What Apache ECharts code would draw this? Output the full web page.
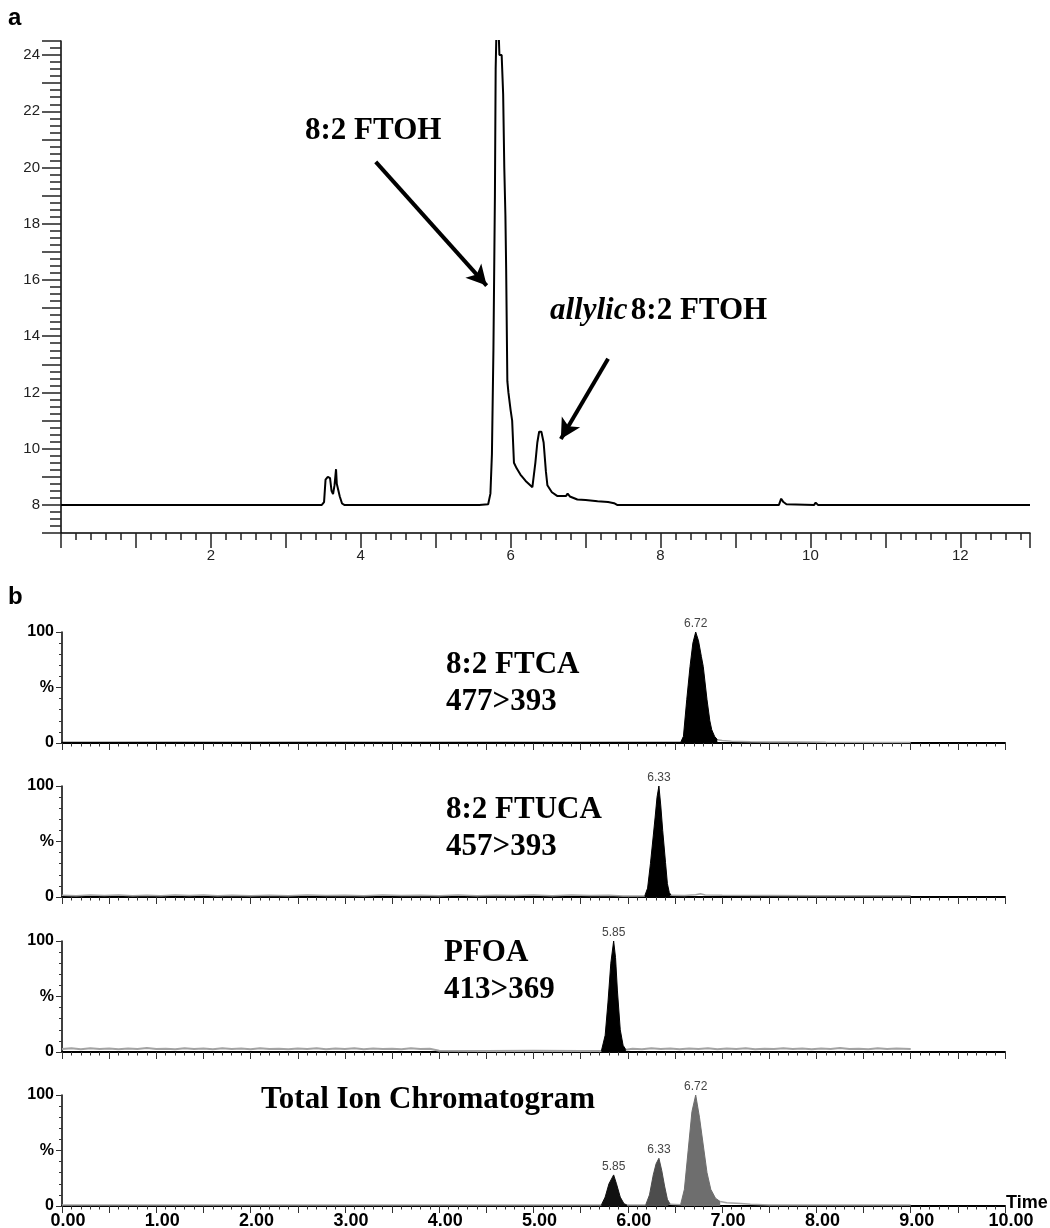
<!DOCTYPE html>
<html>
<head>
<meta charset="utf-8">
<script src="https://cdn.jsdelivr.net/npm/echarts@6/dist/echarts.min.js"></script>
<style>
  html, body { margin: 0; padding: 0; background: #fff; }
  #chart { width: 1050px; height: 1228px; }
</style>
</head>
<body>
<div id="chart"></div>
<script>
// ---- panel a: GC trace (time, abundance) ----
const gcTrace = [
  [0, 8.0], [3.48, 8.0], [3.51, 8.1], [3.53, 8.9], [3.56, 9.0], [3.59, 8.95], [3.61, 8.5],
  [3.63, 8.38], [3.65, 8.7], [3.66, 8.76], [3.67, 9.27], [3.68, 8.75], [3.70, 8.7], [3.72, 8.3],
  [3.75, 8.05], [3.78, 8.0], [5.28, 8.0], [5.29, 7.93], [5.30, 8.0], [5.50, 8.0], [5.51, 7.93],
  [5.52, 8.0], [5.58, 8.0], [5.59, 7.93], [5.60, 8.0], [5.70, 8.02], [5.73, 8.4], [5.75, 9.8],
  [5.77, 13.5], [5.79, 19.0], [5.80, 23.5], [5.81, 24.8], [5.84, 24.8], [5.85, 24.0], [5.88, 24.0],
  [5.90, 22.6], [5.915, 20.0], [5.93, 18.3], [5.94, 16.4], [5.956, 12.4], [5.97, 12.0], [6.00, 11.36],
  [6.02, 11.0], [6.044, 9.5], [6.08, 9.3], [6.13, 9.08], [6.20, 8.85], [6.29, 8.63], [6.33, 9.5],
  [6.356, 10.22], [6.38, 10.6], [6.41, 10.6], [6.44, 10.22], [6.47, 9.2], [6.49, 8.7], [6.55, 8.45],
  [6.62, 8.32], [6.74, 8.32], [6.76, 8.4], [6.79, 8.3], [6.89, 8.19], [7.00, 8.17], [7.16, 8.13],
  [7.30, 8.1], [7.38, 8.06], [7.42, 8.0], [9.58, 8.0], [9.61, 8.22], [9.64, 8.1], [9.68, 8.02],
  [10.05, 8.0], [10.07, 8.08], [10.10, 8.0], [12.93, 8.0]
];
const gcYTicks = [8, 10, 12, 14, 16, 18, 20, 22, 24];
const gcXTicks = [2, 4, 6, 8, 10, 12];
const arrowFTOH = [[4.2, 20.2], [5.68, 15.8]];
const arrowAllylic = [[7.30, 13.2], [6.67, 10.34]];

// ---- panel b: MRM traces (time, %) ----
const ftcaBase = [[0, 0.4], [6.56, 0.4]];
const ftcaPeak = [[6.56, 0.4], [6.59, 6], [6.625, 39], [6.66, 69], [6.69, 90], [6.72, 100], [6.75, 92],
  [6.78, 78], [6.80, 69], [6.84, 39], [6.87, 20], [6.89, 12], [6.92, 6], [6.95, 3]];
const ftcaTail = [[6.95, 3], [7.0, 2.2], [7.1, 1.6], [7.3, 1.2], [7.5, 1.0], [7.8, 0.9], [8.1, 0.6], [9.0, 0.5]];

const ftucaNoise = [[0, 1.5], [0.15, 1.1], [0.3, 1.8], [0.45, 1.3], [0.6, 1.9], [0.75, 1.2], [0.9, 1.6],
  [1.05, 1.1], [1.2, 1.7], [1.35, 1.3], [1.5, 1.8], [1.65, 1.2], [1.8, 1.5], [2.0, 1.1], [2.2, 1.6],
  [2.4, 1.2], [2.6, 1.7], [2.8, 1.3], [3.0, 1.6], [3.2, 1.2], [3.4, 1.8], [3.6, 1.3], [3.8, 1.5],
  [4.0, 1.1], [4.2, 1.7], [4.4, 1.2], [4.6, 1.6], [4.8, 1.3], [5.0, 1.7], [5.2, 1.2], [5.4, 1.9],
  [5.6, 1.3], [5.8, 1.6], [5.95, 1.0], [6.18, 1.0]];
const ftucaPeak = [[6.18, 1.0], [6.21, 8], [6.24, 30], [6.27, 55], [6.29, 72], [6.31, 90], [6.33, 100],
  [6.35, 82], [6.37, 60], [6.40, 31], [6.42, 12], [6.44, 4], [6.46, 1.5]];
const ftucaTail = [[6.46, 1.5], [6.6, 1.4], [6.72, 2.0], [6.77, 3.0], [6.82, 1.8], [7.0, 1.5], [7.5, 1.3],
  [8.0, 1.2], [9.0, 1.2]];

const pfoaNoise = [[0, 2.6], [0.1, 3.3], [0.2, 2.5], [0.3, 3.4], [0.4, 2.7], [0.5, 3.1], [0.6, 2.4],
  [0.7, 3.2], [0.8, 2.6], [0.9, 3.5], [1.0, 2.7], [1.1, 3.0], [1.2, 2.4], [1.3, 3.3], [1.4, 2.6],
  [1.5, 3.2], [1.6, 2.5], [1.7, 3.4], [1.8, 2.8], [1.9, 3.1], [2.0, 2.5], [2.1, 3.3], [2.2, 2.6],
  [2.3, 3.0], [2.4, 2.4], [2.5, 3.2], [2.6, 2.7], [2.7, 3.4], [2.8, 2.5], [2.9, 3.1], [3.0, 2.6],
  [3.1, 3.3], [3.2, 2.5], [3.3, 3.2], [3.4, 2.7], [3.5, 3.0], [3.6, 2.4], [3.7, 3.3], [3.8, 2.6],
  [3.9, 3.0], [4.0, 1.2], [4.5, 1.0], [5.0, 1.1], [5.5, 1.0], [5.72, 1.0]];
const pfoaPeak = [[5.72, 1], [5.76, 15], [5.79, 45], [5.82, 80], [5.85, 100], [5.87, 85], [5.89, 55],
  [5.92, 20], [5.95, 6], [5.98, 2]];
const pfoaTail = [[5.98, 2], [6.05, 3.0], [6.15, 2.5], [6.25, 3.3], [6.35, 2.6], [6.45, 3.1], [6.55, 2.4],
  [6.65, 3.2], [6.75, 2.7], [6.85, 3.4], [6.95, 2.5], [7.05, 3.1], [7.15, 2.6], [7.25, 3.3], [7.35, 2.5],
  [7.45, 3.0], [7.55, 2.7], [7.65, 3.4], [7.75, 2.6], [7.85, 3.2], [7.95, 2.4], [8.05, 3.1], [8.15, 2.7],
  [8.25, 3.5], [8.35, 2.6], [8.45, 3.0], [8.55, 2.5], [8.65, 3.3], [8.75, 2.7], [8.85, 3.1], [9.0, 2.6]];

const ticBase = [[0, 1.0], [5.72, 1.0]];
const ticPeakA = [[5.72, 1.0], [5.76, 8], [5.80, 20], [5.85, 28], [5.88, 20], [5.92, 8], [5.96, 2], [5.99, 1.0]];
const ticGap1 = [[5.99, 1.0], [6.19, 1.0]];
const ticPeakB = [[6.19, 1.0], [6.23, 10], [6.27, 28], [6.30, 38], [6.33, 43], [6.36, 32], [6.39, 18],
  [6.42, 6], [6.45, 1.5]];
const ticGap2 = [[6.45, 1.5], [6.56, 1.2]];
const ticPeakC = [[6.56, 1.2], [6.60, 15], [6.64, 50], [6.68, 85], [6.72, 100], [6.76, 80], [6.80, 55],
  [6.84, 30], [6.88, 15], [6.93, 7], [6.98, 4]];
const ticTail = [[6.98, 4], [7.05, 3], [7.2, 2.2], [7.3, 1.5], [7.5, 1.0], [9.0, 1.0]];

const pctLabels = { 0: '0', 50: '%', 100: '100' };

// ---- layout ----
const panelTops = [632, 786, 941, 1095];
const panelH = 111;
const sans = '"Liberation Sans", Arial, sans-serif';
const serif = '"Liberation Serif", "Times New Roman", serif';

const chart = echarts.init(document.getElementById('chart'));

const grids = [{ left: 61, top: 41, width: 969, height: 492, outerBoundsMode: 'none' }];
panelTops.forEach(t => grids.push({ left: 62, top: t, width: 943, height: panelH, outerBoundsMode: 'none' }));

const xAxes = [{
  gridIndex: 0, type: 'value', min: 0, max: 12.93, interval: 1,
  axisLine: { lineStyle: { color: '#000', width: 1.5 } },
  axisTick: { length: 15, lineStyle: { color: '#222', width: 1.5 } },
  minorTick: { show: true, splitNumber: 5, length: 7, lineStyle: { color: '#222', width: 1.5 } },
  splitLine: { show: false },
  axisLabel: {
    margin: 15, color: '#222', fontFamily: sans, fontSize: 15,
    formatter: v => gcXTicks.indexOf(v) >= 0 ? String(v) : ''
  }
}];
const yAxes = [{
  gridIndex: 0, type: 'value', min: 7, max: 24.5, interval: 1,
  axisLine: { show: true, lineStyle: { color: '#000', width: 1.5 } },
  axisTick: { show: true, length: 19, lineStyle: { color: '#222', width: 1.5 } },
  minorTick: { show: true, splitNumber: 4, length: 11, lineStyle: { color: '#222', width: 1.5 } },
  splitLine: { show: false },
  axisLabel: {
    margin: 21, color: '#222', fontFamily: sans, fontSize: 15,
    formatter: v => gcYTicks.indexOf(v) >= 0 ? String(v) : ''
  }
}];

panelTops.forEach((t, i) => {
  const last = i === panelTops.length - 1;
  xAxes.push({
    gridIndex: i + 1, type: 'value', min: 0, max: 10, interval: 0.5,
    axisLine: { lineStyle: { color: '#000', width: 2 } },
    axisTick: { length: 7, lineStyle: { color: '#333', width: 1 } },
    minorTick: { show: true, splitNumber: 5, length: 3.5, lineStyle: { color: '#333', width: 1 } },
    splitLine: { show: false },
    axisLabel: {
      show: last, margin: 6, color: '#000', fontFamily: sans, fontWeight: 'bold', fontSize: 18,
      padding: [0, 0, 0, 12], showMaxLabel: true,
      formatter: v => Math.abs(v - Math.round(v)) < 1e-6 ? v.toFixed(2) : ''
    }
  });
  yAxes.push({
    gridIndex: i + 1, type: 'value', min: 0, max: 100, interval: 50,
    axisLine: { show: true, lineStyle: { color: '#000', width: 1.5 } },
    axisTick: { show: true, length: 6, lineStyle: { color: '#333', width: 1 } },
    minorTick: { show: true, splitNumber: 5, length: 3, lineStyle: { color: '#333', width: 1 } },
    splitLine: { show: false },
    axisLabel: {
      margin: 8, color: '#000', fontFamily: sans, fontWeight: 'bold', fontSize: 16,
      formatter: v => pctLabels[v] !== undefined ? pctLabels[v] : ''
    }
  });
});

function trace(data, idx, color, width) {
  return {
    type: 'line', xAxisIndex: idx, yAxisIndex: idx, data: data,
    showSymbol: false, symbol: 'none', silent: true,
    lineStyle: { color: color, width: width }
  };
}
function peak(data, idx, color) {
  let apex = data[0];
  data.forEach(p => { if (p[1] > apex[1]) apex = p; });
  const s = trace(data, idx, color, 1);
  s.areaStyle = { color: color, opacity: 1 };
  s.markPoint = {
    silent: true, symbol: 'circle', symbolSize: 1,
    itemStyle: { color: 'rgba(0,0,0,0)' },
    label: {
      show: true, position: 'top', distance: 2, color: '#444',
      fontFamily: sans, fontSize: 12, formatter: apex[0].toFixed(2)
    },
    data: [{ coord: apex }]
  };
  return s;
}

const gray = '#a3a3a3';
const gc = trace(gcTrace, 0, '#000', 2);
gc.markLine = {
  silent: true, symbol: ['none', 'arrow'], symbolSize: [16, 20],
  lineStyle: { color: '#000', width: 4, type: 'solid' },
  label: { show: false },
  data: [
    [{ coord: arrowFTOH[0] }, { coord: arrowFTOH[1] }],
    [{ coord: arrowAllylic[0] }, { coord: arrowAllylic[1] }]
  ]
};

const series = [
  gc,
  trace(ftcaBase, 1, '#000', 1.5), trace(ftcaTail, 1, gray, 1.5), peak(ftcaPeak, 1, '#000'),
  trace(ftucaNoise, 2, gray, 1.5), trace(ftucaTail, 2, gray, 1.5), peak(ftucaPeak, 2, '#000'),
  trace(pfoaNoise, 3, gray, 2), trace(pfoaTail, 3, gray, 2), peak(pfoaPeak, 3, '#000'),
  trace(ticBase, 4, gray, 1.5), trace(ticGap1, 4, gray, 1.5), trace(ticGap2, 4, gray, 1.5),
  trace(ticTail, 4, gray, 1.5),
  peak(ticPeakA, 4, '#111'), peak(ticPeakB, 4, '#4d4d4d'), peak(ticPeakC, 4, '#6e6e6e')
];

function label(text, x, y, font) {
  return {
    type: 'text', silent: true,
    style: { text: text, x: x, y: y, font: font, fill: '#000', textVerticalAlign: 'middle' }
  };
}
const big = 'bold 31px ' + serif;

chart.setOption({
  animation: false,
  backgroundColor: '#fff',
  grid: grids,
  xAxis: xAxes,
  yAxis: yAxes,
  series: series,
  graphic: [
    label('a', 8, 18, 'bold 24px ' + sans),
    label('b', 8, 597, 'bold 24px ' + sans),
    label('Time', 1006, 1203, 'bold 18px ' + sans),
    label('8:2 FTOH', 305, 131, big),
    {
      type: 'text', silent: true,
      style: {
        text: '{i|allylic} {n|8:2 FTOH}', x: 550, y: 311, textVerticalAlign: 'middle',
        rich: {
          i: { font: 'italic bold 31px ' + serif, fill: '#000' },
          n: { font: big, fill: '#000' }
        }
      }
    },
    label('8:2 FTCA', 446, 665, big),
    label('477>393', 446, 702, big),
    label('8:2 FTUCA', 446, 810, big),
    label('457>393', 446, 847, big),
    label('PFOA', 444, 953, big),
    label('413>369', 444, 990, big),
    label('Total Ion Chromatogram', 261, 1100, big)
  ]
});
</script>
</body>
</html>
